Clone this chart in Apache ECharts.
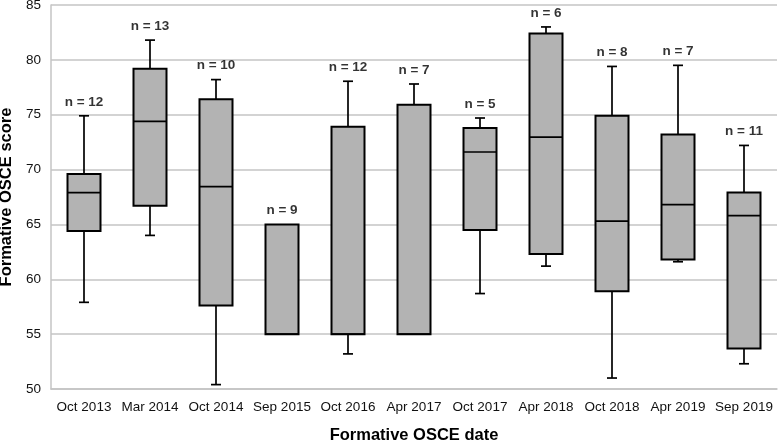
<!DOCTYPE html>
<html>
<head>
<meta charset="utf-8">
<script src="https://cdn.jsdelivr.net/npm/echarts@6/dist/echarts.min.js"></script>
<style>html,body{margin:0;padding:0;background:#fff}#c{width:778px;height:441px}</style>
</head>
<body>
<div id="c"></div>
<script>
var categories = ['Oct 2013','Mar 2014','Oct 2014','Sep 2015','Oct 2016','Apr 2017','Oct 2017','Apr 2018','Oct 2018','Apr 2019','Sep 2019'];
var mins    = [57.9, 64.0, 50.4, 55.0, 53.2, 55.0, 58.7, 61.2, 51.0, 61.6, 52.3];
var q1s     = [64.4, 66.7, 57.6, 55.0, 55.0, 55.0, 64.5, 62.3, 58.9, 61.8, 53.7];
var medians = [67.9, 74.4, 68.45, 55.0, 55.0, 55.0, 71.6, 72.95, 65.3, 66.8, 65.8];
var q3s     = [69.6, 79.2, 76.4, 65.0, 73.9, 75.9, 73.8, 82.4, 74.9, 73.2, 67.9];
var maxs    = [74.9, 81.8, 78.2, 65.0, 78.05, 77.8, 74.7, 83.0, 79.4, 79.5, 72.2];
var counts  = [12, 13, 10, 9, 12, 7, 5, 6, 8, 7, 11];
var yTicks  = [50, 55, 60, 65, 70, 75, 80, 85];

var boxData = categories.map(function (c, i) {
  return [i, mins[i], q1s[i], medians[i], q3s[i], maxs[i]];
});
var labelData = categories.map(function (c, i) {
  return [i, maxs[i], counts[i]];
});

var font = '"Liberation Sans", Arial, sans-serif';
var chart = echarts.init(document.getElementById('c'));
chart.setOption({
  animation: false,
  grid: { left: 51, right: 1, top: 5, bottom: 52, containLabel: false, outerBoundsMode: 'none' },
  xAxis: {
    type: 'category',
    data: categories,
    name: 'Formative OSCE date',
    nameLocation: 'middle',
    nameGap: 38,
    nameTextStyle: { fontFamily: font, fontSize: 16.5, fontWeight: 'bold', color: '#000' },
    axisLine: { show: true, lineStyle: { color: '#c4c4c4', width: 1.5 } },
    axisTick: { show: false },
    axisLabel: { fontFamily: font, fontSize: 13.5, color: '#111', margin: 11, interval: 0 },
    splitLine: { show: false }
  },
  yAxis: {
    type: 'value',
    min: yTicks[0],
    max: yTicks[yTicks.length - 1],
    interval: 5,
    name: 'Formative OSCE score',
    nameLocation: 'middle',
    nameGap: 35,
    nameTextStyle: { fontFamily: font, fontSize: 16.5, fontWeight: 'bold', color: '#000' },
    axisLine: { show: true, lineStyle: { color: '#c4c4c4', width: 1.5 } },
    axisTick: { show: false },
    axisLabel: { fontFamily: font, fontSize: 13.5, color: '#111', margin: 10 },
    splitLine: { show: true, lineStyle: { color: '#c4c4c4', width: 1.5 } }
  },
  series: [
    {
      type: 'custom',
      data: boxData,
      encode: { x: 0, y: [1, 2, 3, 4, 5] },
      renderItem: function (params, api) {
        var idx = api.value(0);
        var band = api.size([1, 0])[0];
        var half = band * 0.25;
        var cap = 5;
        var pMin = api.coord([idx, api.value(1)]);
        var pQ1 = api.coord([idx, api.value(2)]);
        var pMed = api.coord([idx, api.value(3)]);
        var pQ3 = api.coord([idx, api.value(4)]);
        var pMax = api.coord([idx, api.value(5)]);
        var x = pMed[0];
        var ls = { stroke: '#000', lineWidth: 1.7, fill: null };
        var children = [];
        if (pMax[1] < pQ3[1] - 0.5) {
          children.push({ type: 'line', shape: { x1: x, y1: pQ3[1], x2: x, y2: pMax[1] }, style: ls });
          children.push({ type: 'line', shape: { x1: x - cap, y1: pMax[1], x2: x + cap, y2: pMax[1] }, style: ls });
        }
        if (pMin[1] > pQ1[1] + 0.5) {
          children.push({ type: 'line', shape: { x1: x, y1: pQ1[1], x2: x, y2: pMin[1] }, style: ls });
          children.push({ type: 'line', shape: { x1: x - cap, y1: pMin[1], x2: x + cap, y2: pMin[1] }, style: ls });
        }
        children.push({
          type: 'rect',
          shape: { x: x - half, y: pQ3[1], width: half * 2, height: pQ1[1] - pQ3[1] },
          style: { fill: '#b3b3b3', stroke: '#000', lineWidth: 2 }
        });
        children.push({ type: 'line', shape: { x1: x - half, y1: pMed[1], x2: x + half, y2: pMed[1] }, style: ls });
        return { type: 'group', children: children };
      },
      z: 3
    },
    {
      type: 'scatter',
      data: labelData,
      symbolSize: 0,
      silent: true,
      label: {
        show: true,
        position: 'top',
        distance: 7,
        fontFamily: font,
        fontSize: 13.5,
        fontWeight: 'bold',
        color: '#000',
        formatter: function (p) { return 'n = ' + p.value[2]; }
      },
      z: 4
    }
  ]
});
</script>
</body>
</html>
